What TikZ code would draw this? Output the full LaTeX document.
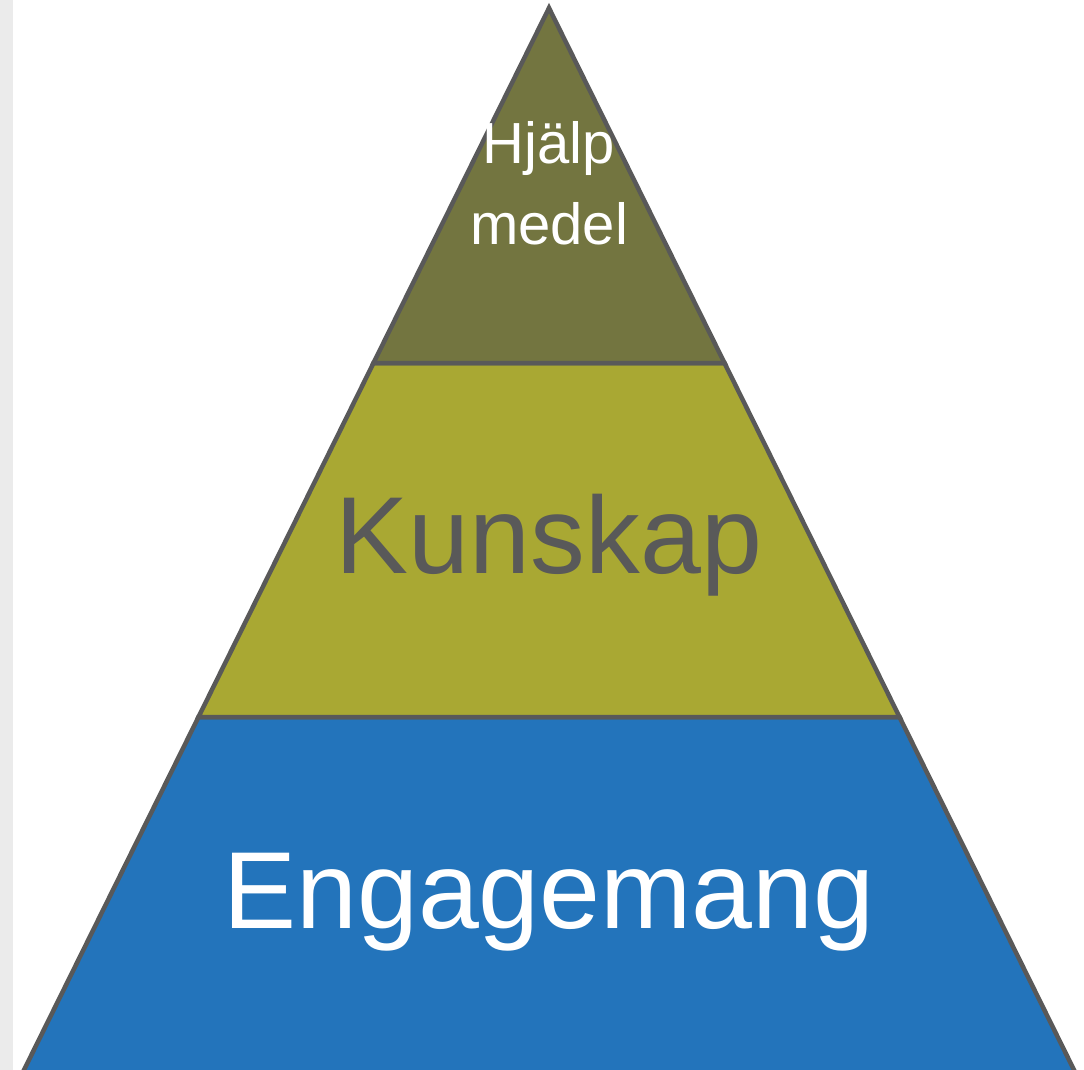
\documentclass[tikz,border=0pt]{standalone}
\usepackage{fontspec}
\setmainfont{Liberation Sans}
\definecolor{topc}{HTML}{737540}
\definecolor{midc}{HTML}{A9A833}
\definecolor{botc}{HTML}{2374BB}
\definecolor{edge}{HTML}{595959}
\definecolor{strip}{HTML}{EBEBEB}
\begin{document}
\begin{tikzpicture}[x=1pt,y=-1pt,
  layer/.style={draw=edge,line width=4.5pt,line join=miter},
  lbl/.style={anchor=base,inner sep=0pt,align=center}]
\useasboundingbox (0,0) rectangle (1084,1070);
\fill[strip] (0,0) rectangle (13,1070);
\begin{scope}
\clip (0,0) rectangle (1084,1070);
\coordinate (A) at (549,8);
\coordinate (L1) at (373.5,363);
\coordinate (R1) at (724.5,363);
\coordinate (L2) at (198.5,717);
\coordinate (R2) at (899.5,717);
\coordinate (L3) at (21,1076);
\coordinate (R3) at (1077,1076);
\filldraw[layer,fill=botc] (L2) -- (R2) -- (R3) -- (L3) -- cycle;
\filldraw[layer,fill=midc] (L1) -- (R1) -- (R2) -- (L2) -- cycle;
\filldraw[layer,fill=topc] (A) -- (R1) -- (L1) -- cycle;
\end{scope}
\node[lbl,text=white,font=\fontsize{58}{80}\selectfont] (t1) at (549,164) {Hjälp};
\node[lbl,text=white,font=\fontsize{58}{80}\selectfont] (t2) at (549,244) {medel};
\node[lbl,text=edge,font=\fontsize{109.5}{120}\selectfont] (t3) at (549,573) {Kunskap};
\node[lbl,text=white,font=\fontsize{109.5}{120}\selectfont] (t4) at (549,928) {Engagemang};
\end{tikzpicture}
\end{document}
